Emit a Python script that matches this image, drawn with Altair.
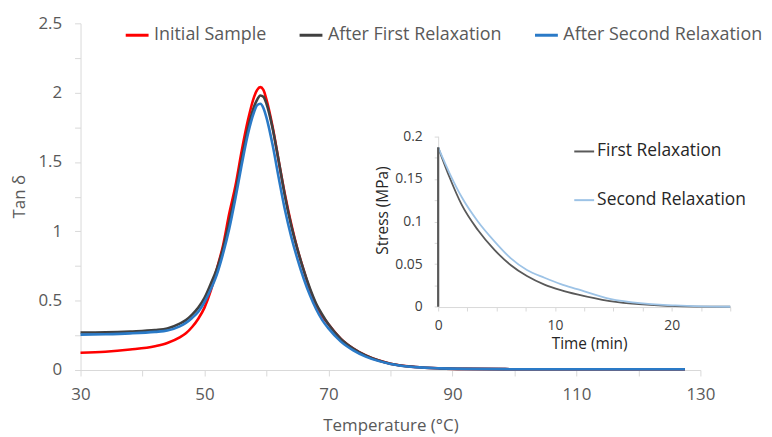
import altair as alt
import pandas as pd

# ---- main DMA curves (Tan delta vs temperature) ----
temp = [30, 34, 38, 42, 44, 46, 47, 48, 49, 50, 51, 52, 53, 54, 55, 56, 57, 58, 58.5, 59,
        59.5, 60, 61, 62, 63, 64, 65, 66, 67, 68, 69, 70, 72, 74, 76, 78, 80, 84, 88, 92,
        100, 110, 120, 127.5]
initial = [0.125, 0.132, 0.148, 0.172, 0.195, 0.235, 0.265, 0.31, 0.37, 0.45, 0.57, 0.73, 0.90,
           1.13, 1.33, 1.58, 1.80, 1.97, 2.02, 2.04, 2.02, 1.95, 1.75, 1.50, 1.26, 1.05, 0.87,
           0.72, 0.58, 0.47, 0.39, 0.33, 0.225, 0.155, 0.105, 0.07, 0.045, 0.022, 0.012, 0.008,
           0.006, 0.005, 0.005, 0.005]
after_first = [0.27, 0.272, 0.278, 0.288, 0.30, 0.335, 0.36, 0.40, 0.45, 0.52, 0.62, 0.73, 0.88,
               1.07, 1.28, 1.52, 1.74, 1.90, 1.95, 1.98, 1.97, 1.92, 1.74, 1.50, 1.25, 1.04, 0.87,
               0.72, 0.59, 0.48, 0.40, 0.33, 0.225, 0.155, 0.105, 0.07, 0.046, 0.022, 0.012, 0.008,
               0.006, 0.005, 0.005, 0.005]
after_second = [0.255, 0.258, 0.264, 0.275, 0.285, 0.315, 0.34, 0.375, 0.42, 0.49, 0.58, 0.69, 0.84,
                1.02, 1.24, 1.48, 1.70, 1.86, 1.91, 1.92, 1.89, 1.82, 1.62, 1.38, 1.15, 0.96, 0.80,
                0.66, 0.54, 0.44, 0.36, 0.30, 0.205, 0.142, 0.097, 0.066, 0.044, 0.021, 0.012, 0.008,
                0.006, 0.005, 0.005, 0.005]
series_names = ["Initial Sample", "After First Relaxation", "After Second Relaxation"]
series_colors = ["#ff0000", "#404040", "#2a7ac7"]

# ---- inset: stress relaxation ----
time_min = [0, 1, 2, 3.4, 4.8, 6.2, 7.6, 9.1, 10.5, 11.9, 14.7, 17.5, 20.3, 22.5, 25]
first_relax = [0.187, 0.151, 0.120, 0.090, 0.067, 0.049, 0.036, 0.026, 0.0195, 0.0144, 0.0066,
               0.0027, 0.0007, 0.0002, 0.0]
second_relax = [0.187, 0.156, 0.129, 0.100, 0.077, 0.057, 0.043, 0.034, 0.0265, 0.0207, 0.0093,
                0.0039, 0.0015, 0.0005, 0.0]
relax_names = ["First Relaxation", "Second Relaxation"]
relax_colors = ["#595959", "#9dc3e6"]

FONT = "Open Sans"
GRAY = "#595959"
AXC = "#d9d9d9"

rows = []
for name, vals in zip(series_names, [initial, after_first, after_second]):
    for i, (t, v) in enumerate(zip(temp, vals)):
        rows.append({"temp": t, "tan": v, "series": name, "idx": i})
main_df = pd.DataFrame(rows)

irows = []
for name, vals in zip(relax_names, [first_relax, second_relax]):
    for i, (t, v) in enumerate(zip(time_min, vals)):
        irows.append({"time": t, "stress": v, "relax": name, "idx": i})
inset_df = pd.DataFrame(irows)
rule_df = pd.DataFrame({"time": [time_min[0]], "stress": [0.0], "top": [first_relax[0]]})

main = alt.Chart(main_df).mark_line(strokeWidth=2.6, interpolate="monotone").encode(
    x=alt.X("temp:Q", scale=alt.Scale(domain=[30, 130], nice=False, zero=False),
            axis=alt.Axis(values=list(range(30, 131, 10)),
                          labelExpr="(datum.value - 30) % 20 == 0 ? datum.label : ''",
                          labelFlush=False, labelOverlap=False,
                          title="Temperature (°C)", titleX=312, titleY=56,
                          titleAlign="center", titleBaseline="middle",
                          grid=False, domainColor=AXC, tickColor=AXC, tickSize=6,
                          labelPadding=11, labelFontSize=17, labelColor=GRAY, labelFont=FONT,
                          titleFontSize=17, titleColor=GRAY, titleFont=FONT,
                          titleFontWeight="normal")),
    y=alt.Y("tan:Q", scale=alt.Scale(domain=[0, 2.5], nice=False),
            axis=alt.Axis(values=[i * 0.25 for i in range(11)], format="~g",
                          labelExpr="datum.value % 0.5 == 0 ? datum.label : ''",
                          labelFlush=False, labelOverlap=False,
                          title="Tan δ", titleX=-61, titleY=174, titleAngle=270,
                          titleAlign="center", titleBaseline="middle",
                          grid=False, domainColor=AXC, tickColor=AXC, tickSize=6,
                          labelPadding=13, labelFontSize=17, labelColor=GRAY, labelFont=FONT,
                          titleFontSize=17, titleColor=GRAY, titleFont=FONT,
                          titleFontWeight="normal")),
    color=alt.Color("series:N", scale=alt.Scale(domain=series_names, range=series_colors),
                    legend=alt.Legend(orient="none", legendX=44, legendY=-1, direction="horizontal",
                                      title=None, symbolType="stroke", symbolSize=529,
                                      symbolStrokeWidth=3, labelFontSize=18, labelColor=GRAY,
                                      labelFont=FONT, labelLimit=400, columnPadding=27,
                                      labelOffset=4)),
    order="idx:Q",
)

ix = alt.Scale(domain=[0, 25], range=[360, 654], nice=False, zero=False)
iy = alt.Scale(domain=[0, 0.2], range=[285.3, 113.7], nice=False)

inset_x_axis = alt.Axis(orient="bottom", offset=-63.4,
                        values=[i * 2.5 for i in range(11)],
                        labelExpr="datum.value % 10 == 0 ? datum.label : ''",
                        labelFlush=False, labelOverlap=False,
                        title="Time (min)", titleX=512, titleY=37,
                        titleAlign="center", titleBaseline="middle",
                        grid=False, domainColor=AXC, tickColor=AXC, tickSize=4,
                        labelPadding=8, labelFontSize=14, labelColor="#404040", labelFont=FONT,
                        titleFontSize=15.5, titleColor="#262626", titleFont=FONT,
                        titleFontWeight="normal")
inset_y_axis = alt.Axis(orient="left", offset=-360,
                        values=[i * 0.025 for i in range(9)],
                        labelExpr="round(datum.value * 1000) % 50 == 0 ? '' + round(datum.value * 100) / 100 : ''",
                        labelFlush=False, labelOverlap=False,
                        title="Stress (MPa)", titleX=-56, titleY=188, titleAngle=270,
                        titleAlign="center", titleBaseline="middle",
                        grid=False, domainColor=AXC, tickColor=AXC, tickSize=4,
                        labelPadding=12, labelFontSize=14, labelColor="#404040", labelFont=FONT,
                        titleFontSize=15.5, titleColor="#262626", titleFont=FONT,
                        titleFontWeight="normal")

inset_line = alt.Chart(inset_df).mark_line(strokeWidth=1.8, interpolate="monotone").encode(
    x=alt.X("time:Q", scale=ix, axis=inset_x_axis),
    y=alt.Y("stress:Q", scale=iy, axis=inset_y_axis),
    color=alt.Color("relax:N", scale=alt.Scale(domain=relax_names, range=relax_colors),
                    legend=alt.Legend(orient="none", legendX=496, legendY=118,
                                      direction="vertical", title=None, symbolType="stroke",
                                      symbolSize=400, symbolStrokeWidth=2, labelFontSize=17.5,
                                      labelColor="#262626", labelFont=FONT, labelLimit=400,
                                      rowPadding=29, labelOffset=2)),
    order="idx:Q",
)

inset_rule = alt.Chart(rule_df).mark_rule(color=relax_colors[0], strokeWidth=2.2).encode(
    x=alt.X("time:Q", scale=ix, axis=inset_x_axis),
    y=alt.Y("stress:Q", scale=iy, axis=inset_y_axis),
    y2="top:Q",
)

inset = alt.layer(inset_line, inset_rule)

chart = alt.layer(main, inset).resolve_scale(
    x="independent", y="independent", color="independent"
).properties(
    width=624, height=349,
    padding={"left": 73, "top": 14, "right": 64, "bottom": 66},
    autosize=alt.AutoSizeParams(type="none"),
).configure(font=FONT).configure_view(strokeWidth=0, strokeOpacity=0)

chart.save("out.html", embed_options={"renderer": "svg", "actions": False})
